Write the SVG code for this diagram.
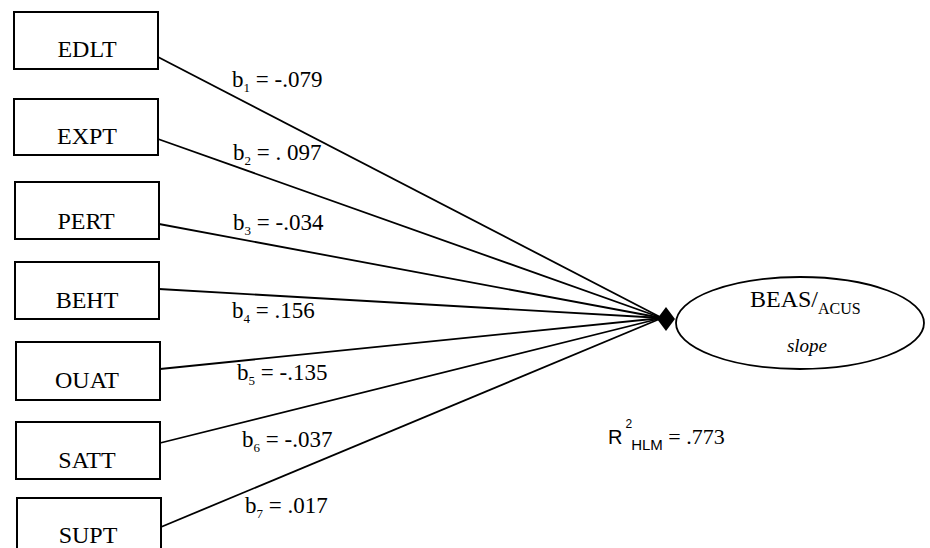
<svg xmlns="http://www.w3.org/2000/svg" width="930" height="548" viewBox="0 0 930 548">
<style>
.box{fill:#fff;stroke:#000;stroke-width:2}
.lbl{font-family:"Liberation Serif",serif;font-size:24px;fill:#000;text-anchor:middle}
.coef{font-family:"Liberation Serif",serif;font-size:23px;fill:#000}
.sub{font-size:13px}
.conn line{stroke:#000;stroke-width:1.8}
</style>
<rect width="930" height="548" fill="#fff"/>
<g id="EDLT"><rect class="box" x="14" y="12" width="144" height="57"/><text class="lbl" x="87" y="57">EDLT</text></g>
<g id="EXPT"><rect class="box" x="14" y="99" width="144" height="56"/><text class="lbl" x="87" y="144">EXPT</text></g>
<g id="PERT"><rect class="box" x="15" y="182" width="144" height="57"/><text class="lbl" x="86" y="229">PERT</text></g>
<g id="BEHT"><rect class="box" x="15" y="262" width="144" height="57"/><text class="lbl" x="87" y="308">BEHT</text></g>
<g id="OUAT"><rect class="box" x="16" y="342" width="144" height="58"/><text class="lbl" x="87" y="388">OUAT</text></g>
<g id="SATT"><rect class="box" x="16" y="422" width="144" height="57"/><text class="lbl" x="87" y="468">SATT</text></g>
<g id="SUPT"><rect class="box" x="17" y="498" width="144" height="60"/><text class="lbl" x="88" y="543">SUPT</text></g>
<g id="connectors" class="conn">
<line x1="158" y1="57" x2="662" y2="318"/>
<line x1="158" y1="139" x2="662" y2="318"/>
<line x1="159" y1="224" x2="662" y2="318"/>
<line x1="159" y1="289" x2="662" y2="318"/>
<line x1="160" y1="369" x2="662" y2="318"/>
<line x1="160" y1="443" x2="662" y2="318"/>
<line x1="161" y1="527" x2="662" y2="318"/>
<polygon points="666,307 675,319 666,331 657,319" fill="#000"/>
</g>
<g id="coefs">
<text class="coef" x="232" y="87">b<tspan class="sub" dy="5">1</tspan><tspan dy="-5"> = -.079</tspan></text>
<text class="coef" x="233" y="160">b<tspan class="sub" dy="5">2</tspan><tspan dy="-5"> = . 097</tspan></text>
<text class="coef" x="233" y="230">b<tspan class="sub" dy="5">3</tspan><tspan dy="-5"> = -.034</tspan></text>
<text class="coef" x="232" y="318">b<tspan class="sub" dy="5">4</tspan><tspan dy="-5"> = .156</tspan></text>
<text class="coef" x="237" y="380">b<tspan class="sub" dy="5">5</tspan><tspan dy="-5"> = -.135</tspan></text>
<text class="coef" x="242" y="447">b<tspan class="sub" dy="5">6</tspan><tspan dy="-5"> = -.037</tspan></text>
<text class="coef" x="245" y="513">b<tspan class="sub" dy="5">7</tspan><tspan dy="-5"> = .017</tspan></text>
</g>
<g id="BEAS">
<ellipse cx="800" cy="323" rx="124" ry="46" fill="#fff" stroke="#000" stroke-width="1.8"/>
<text font-family="Liberation Serif,serif" font-size="24" x="750" y="307">BEAS/<tspan font-size="16" dy="7">ACUS</tspan></text>
<text font-family="Liberation Serif,serif" font-size="19" font-style="italic" x="807" y="352" text-anchor="middle">slope</text>
</g>
<g id="r2">
<text font-family="Liberation Sans,sans-serif" font-size="20" x="608" y="444">R<tspan font-size="12" dy="-16" dx="3">2</tspan><tspan font-size="15" dy="22" dx="-1">HLM</tspan><tspan font-family="Liberation Serif,serif" font-size="22" dy="-6"> = .773</tspan></text>
</g>
</svg>
